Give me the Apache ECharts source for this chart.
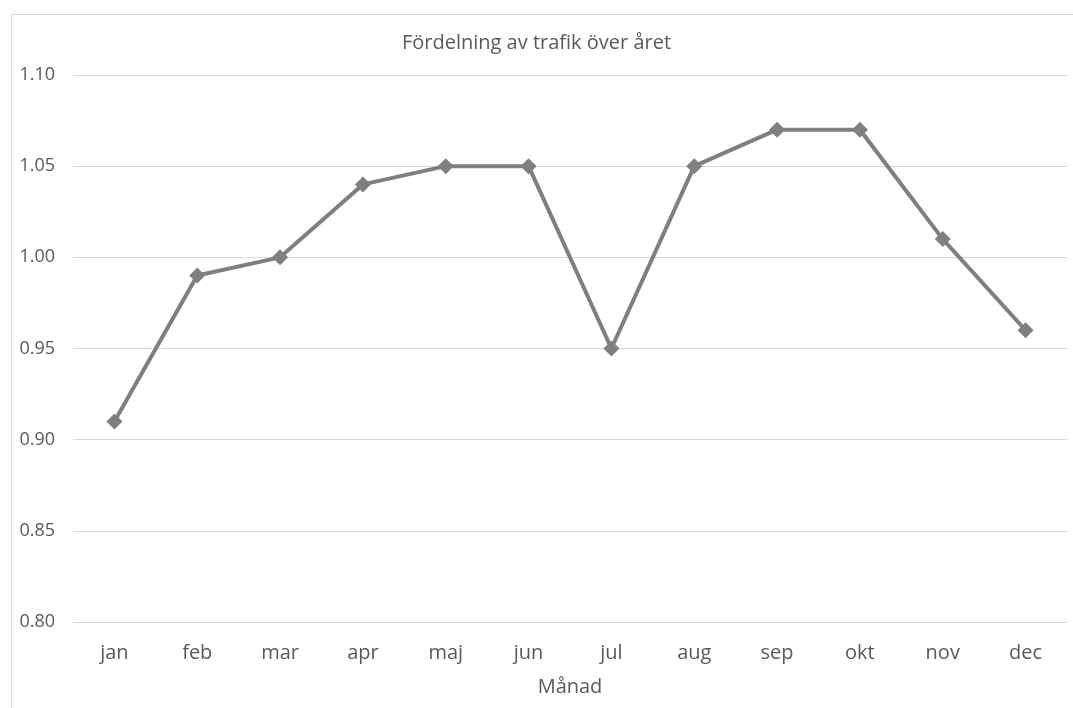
<!DOCTYPE html>
<html>
<head>
<meta charset="utf-8">
<script src="https://cdn.jsdelivr.net/npm/echarts@6/dist/echarts.min.js"></script>
<style>
  html, body { margin: 0; padding: 0; background: #fff; }
  #chart { width: 1073px; height: 708px; }
</style>
</head>
<body>
<div id="chart"></div>
<script>
// Monthly traffic distribution factors
const months = ['jan', 'feb', 'mar', 'apr', 'maj', 'jun', 'jul', 'aug', 'sep', 'okt', 'nov', 'dec'];
const factors = [0.91, 0.99, 1.00, 1.04, 1.05, 1.05, 0.95, 1.05, 1.07, 1.07, 1.01, 0.96];
const yTicks = { min: 0.80, max: 1.10, step: 0.05 };

const font = '"Open Sans", "Liberation Sans", sans-serif';
const textColor = '#595959';

const chart = echarts.init(document.getElementById('chart'), null, { renderer: 'canvas' });
chart.setOption({
  animation: false,
  backgroundColor: '#ffffff',
  graphic: [{
    type: 'rect',
    left: 9, top: 12,
    shape: { width: 1070, height: 720 },
    style: { fill: 'none', stroke: '#d9d9d9', lineWidth: 1 },
    silent: true
  }],
  title: {
    text: 'Fördelning av trafik över året',
    left: 'center',
    top: 28,
    textStyle: { fontFamily: font, fontSize: 20, fontWeight: 'normal', color: textColor }
  },
  grid: { left: 73, right: 6, top: 75, bottom: 86 },
  xAxis: {
    type: 'category',
    data: months,
    boundaryGap: true,
    name: 'Månad',
    nameLocation: 'middle',
    nameGap: 55,
    nameTextStyle: { fontFamily: font, fontSize: 20, color: textColor },
    axisLine: { show: false },
    axisTick: { show: false },
    axisLabel: { fontFamily: font, fontSize: 20, color: textColor, margin: 21 }
  },
  yAxis: {
    type: 'value',
    min: yTicks.min,
    max: yTicks.max,
    interval: yTicks.step,
    axisLine: { show: false },
    axisTick: { show: false },
    axisLabel: {
      fontFamily: font, fontSize: 18, color: textColor, margin: 18,
      formatter: v => v.toFixed(2)
    },
    splitLine: { lineStyle: { color: '#d9d9d9', width: 1 } }
  },
  series: [{
    type: 'line',
    data: factors,
    symbol: 'diamond',
    symbolSize: 16,
    lineStyle: { color: '#7f7f7f', width: 4 },
    itemStyle: { color: '#7f7f7f' }
  }]
});
</script>
</body>
</html>
